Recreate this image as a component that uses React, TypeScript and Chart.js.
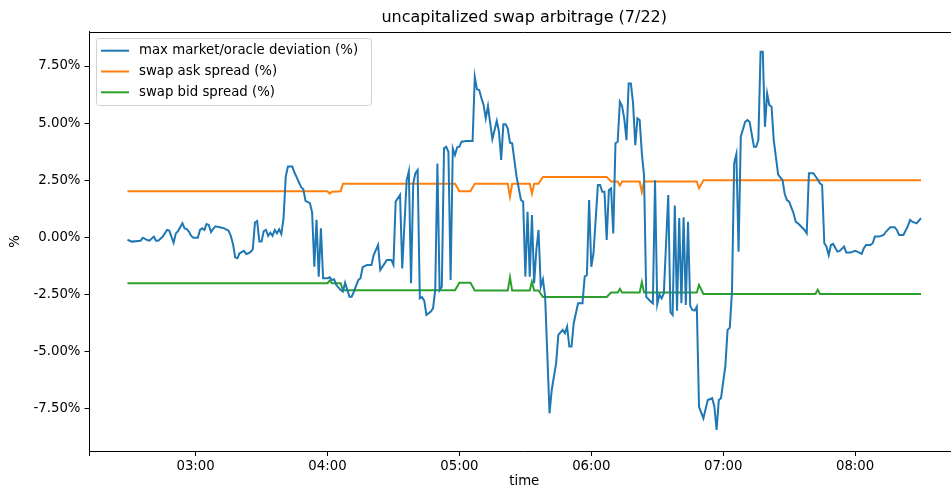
import React, { useEffect, useRef } from "react";
import { Chart, registerables } from "chart.js";

Chart.register(...registerables);

const TITLE = "uncapitalized swap arbitrage (7/22)";
const X_LABEL = "time";
const Y_LABEL = "%";
const SERIES_NAMES = [
  "max market/oracle deviation (%)",
  "swap ask spread (%)",
  "swap bid spread (%)",
];
const COLORS = ["#1f77b4", "#ff7f0e", "#2ca02c"];
const X_TICK_LABELS = ["03:00", "04:00", "05:00", "06:00", "07:00", "08:00"];
const Y_TICKS = [-7.5, -5, -2.5, 0, 2.5, 5, 7.5];
const X_RANGE = ["02:11:30", "08:47:30"];
const Y_RANGE = [-9.36, 9.01];

const deviationTimes = [
  "02:29", "02:31", "02:35", "02:36", "02:38", "02:39", "02:41", "02:42", "02:43", "02:45",
  "02:47", "02:48", "02:50", "02:51", "02:52", "02:54", "02:55", "02:56", "02:57", "02:58",
  "02:59", "03:01", "03:02", "03:03", "03:04", "03:05", "03:06", "03:07", "03:08", "03:09",
  "03:11", "03:13", "03:15", "03:16", "03:17", "03:18", "03:19", "03:20", "03:22", "03:23",
  "03:24", "03:25", "03:26", "03:27", "03:28", "03:29", "03:30", "03:31", "03:32", "03:33",
  "03:34", "03:35", "03:36", "03:37", "03:38", "03:39", "03:40", "03:41", "03:42", "03:44",
  "03:45", "03:46", "03:48", "03:49", "03:50", "03:52", "03:53", "03:54", "03:55", "03:56",
  "03:57", "03:58", "04:00", "04:01", "04:02", "04:03", "04:04", "04:06", "04:07", "04:08",
  "04:10", "04:11", "04:12", "04:14", "04:15", "04:16", "04:18", "04:20", "04:21", "04:23",
  "04:24", "04:26", "04:27", "04:29", "04:30", "04:31", "04:33", "04:34", "04:36", "04:37",
  "04:38", "04:39", "04:40", "04:41", "04:42", "04:43", "04:44", "04:45", "04:47", "04:48",
  "04:49", "04:50", "04:51", "04:52", "04:53", "04:54", "04:55", "04:56", "04:57", "04:58",
  "04:59", "05:00", "05:01", "05:03", "05:06", "05:07", "05:08", "05:09", "05:10", "05:11",
  "05:12", "05:13", "05:14", "05:15", "05:17", "05:18", "05:19", "05:20", "05:21", "05:22",
  "05:23", "05:24", "05:26", "05:28", "05:29", "05:30", "05:31", "05:32", "05:33", "05:34",
  "05:35", "05:36", "05:37", "05:38", "05:39", "05:41", "05:42", "05:44", "05:45", "05:47",
  "05:48", "05:49", "05:50", "05:51", "05:52", "05:54", "05:56", "05:57", "05:58", "05:59",
  "06:00", "06:01", "06:03", "06:04", "06:05", "06:06", "06:07", "06:08", "06:09", "06:10",
  "06:11", "06:12", "06:13", "06:14", "06:15", "06:16", "06:17", "06:18", "06:19", "06:20",
  "06:21", "06:22", "06:23", "06:24", "06:25", "06:27", "06:28", "06:29", "06:30", "06:31",
  "06:32", "06:33", "06:35", "06:36", "06:37", "06:38", "06:39", "06:40", "06:41", "06:42",
  "06:43", "06:44", "06:45", "06:46", "06:47", "06:48", "06:49", "06:51", "06:53", "06:55",
  "06:56", "06:57", "06:58", "06:59", "07:01", "07:02", "07:03", "07:04", "07:05", "07:06",
  "07:07", "07:08", "07:10", "07:11", "07:12", "07:14", "07:15", "07:16", "07:17", "07:18",
  "07:19", "07:20", "07:21", "07:22", "07:23", "07:25", "07:27", "07:28", "07:29", "07:30",
  "07:32", "07:33", "07:34", "07:37", "07:38", "07:39", "07:41", "07:43", "07:44", "07:45",
  "07:46", "07:47", "07:48", "07:49", "07:50", "07:52", "07:53", "07:55", "07:56", "07:58",
  "08:00", "08:01", "08:03", "08:04", "08:05", "08:07", "08:08", "08:09", "08:11", "08:13",
  "08:14", "08:16", "08:18", "08:19", "08:20", "08:22", "08:24", "08:25", "08:26", "08:28",
  "08:30",
];
const deviationValues = [
  -0.10, -0.18, -0.14, -0.01, -0.11, -0.14, 0.04, -0.14, -0.14, 0.03,
  0.33, 0.30, -0.23, 0.18, 0.28, 0.62, 0.40, 0.37, 0.25, 0.07,
  -0.01, -0.01, 0.33, 0.40, 0.33, 0.59, 0.55, 0.24, 0.38, 0.49,
  0.45, 0.40, 0.30, 0.07, -0.28, -0.87, -0.91, -0.69, -0.58, -0.72,
  -0.69, -0.63, -0.52, 0.65, 0.72, -0.18, -0.18, 0.28, 0.33, 0.07,
  0.21, 0.07, 0.33, 0.18, 0.36, 0.15, 0.84, 2.66, 3.10, 3.10,
  2.83, 2.63, 2.20, 2.11, 1.60, 1.50, 1.10, -1.28, 0.77, -1.71,
  0.40, -1.78, -1.78, -1.74, -1.86, -1.83, -2.08, -2.30, -2.37, -1.98,
  -2.59, -2.59, -2.37, -1.86, -1.78, -1.30, -1.20, -1.20, -0.77, -0.33,
  -1.42, -1.13, -0.98, -0.98, -1.20, 1.57, 1.86, -1.35, 2.50, 2.90,
  -2.00, 2.37, 2.81, 2.95, -2.66, -2.61, -2.76, -3.39, -3.24, -3.10,
  -2.30, 3.24, -2.30, -2.15, 3.90, 3.97, 3.75, -1.86, 3.90, 3.61,
  3.94, 3.97, 4.19, 4.22, 4.22, 7.03, 6.48, 6.45, 6.10, 5.80,
  5.21, 5.75, 5.00, 4.30, 5.10, 4.63, 3.39, 4.95, 4.95, 4.77,
  4.15, 4.12, 2.66, 1.64, 1.57, -1.71, 1.13, -1.71, 0.98, -2.00,
  -0.55, 0.33, -2.15, -1.83, -2.59, -7.69, -6.67, -5.50, -4.26, -4.04,
  -4.19, -3.90, -4.77, -4.77, -3.75, -2.88, -2.88, -1.71, -1.64, 1.64,
  -1.28, -0.69, 2.30, 2.30, 2.00, 2.00, -0.11, 2.08, 2.15, 0.18,
  4.12, 4.19, 5.94, 5.75, 5.20, 4.26, 6.74, 6.74, 5.87, 4.04,
  5.21, 5.14, 3.68, 2.70, -2.60, -2.80, -2.88, 2.50, -2.92, -2.50,
  -2.66, -2.44, 1.86, -3.27, -3.39, 1.40, -3.20, 0.85, -2.88, 0.88,
  -2.95, 0.69, -3.00, -3.17, -3.20, -3.02, -7.40, -7.91, -7.11, -7.03,
  -7.40, -8.42, -7.11, -7.03, -5.60, -4.04, -3.95, -2.35, 3.24, 3.65,
  -0.62, 4.41, 5.06, 5.14, 5.06, 3.97, 3.97, 4.26, 8.12, 8.12,
  4.84, 6.30, 5.79, 5.72, 4.26, 2.75, 2.51, 1.90, 1.64, 1.57,
  1.06, 0.69, 0.62, 0.33, 0.18, 2.81, 2.81, 2.54, 2.37, 2.30,
  -0.25, -0.40, -0.77, -0.33, -0.28, -0.62, -0.59, -0.40, -0.66, -0.66,
  -0.58, -0.62, -0.72, -0.47, -0.33, -0.33, -0.25, 0.04, 0.04, 0.11,
  0.25, 0.45, 0.45, 0.33, 0.11, 0.11, 0.50, 0.77, 0.69, 0.62,
  0.85,
];

const askTimes = [
  "02:29", "04:00", "04:01", "04:02", "04:06", "04:07", "04:58", "05:00", "05:05", "05:07",
  "05:22", "05:23", "05:24", "05:32", "05:33", "05:34", "05:36", "05:38", "06:07", "06:09",
  "06:12", "06:13", "06:14", "06:22", "06:23", "06:24", "06:48", "06:49", "06:51", "08:30",
];
const askValues = [
  2.02, 2.02, 1.92, 2.0, 2.02, 2.35, 2.35, 2.02, 2.02, 2.35,
  2.35, 1.78, 2.35, 2.35, 1.92, 2.35, 2.35, 2.65, 2.65, 2.45,
  2.45, 2.28, 2.45, 2.45, 1.99, 2.45, 2.45, 2.15, 2.5, 2.5,
];

const bidTimes = [
  "02:29", "04:00", "04:01", "04:02", "04:06", "04:07", "04:58", "05:00", "05:05", "05:07",
  "05:22", "05:23", "05:24", "05:32", "05:33", "05:34", "05:36", "05:38", "06:07", "06:09",
  "06:12", "06:13", "06:14", "06:22", "06:23", "06:24", "06:48", "06:49", "06:51", "07:42",
  "07:43", "07:44", "08:30",
];
const bidValues = [
  -2.0, -2.0, -1.88, -2.0, -2.0, -2.31, -2.31, -1.98, -1.98, -2.32,
  -2.32, -1.74, -2.32, -2.32, -1.93, -2.32, -2.32, -2.6, -2.6, -2.41,
  -2.41, -2.25, -2.41, -2.41, -1.95, -2.41, -2.41, -2.08, -2.47, -2.47,
  -2.28, -2.47, -2.47,
];

const FONT = "'DejaVu Sans', sans-serif";
const TEXT_SIZE = 13.3;
const TITLE_SIZE = 16;

const toMinutes = (s: string) => {
  const p = s.split(":").map(Number);
  return p[0] * 60 + p[1] + (p[2] || 0) / 60;
};
const fmtMinutes = (v: number) => {
  const total = Math.round(v);
  const h = Math.floor(total / 60);
  const m = total - h * 60;
  return `${String(h).padStart(2, "0")}:${String(m).padStart(2, "0")}`;
};
const toPoints = (times: string[], values: number[]) =>
  times.map((t, i) => ({ x: toMinutes(t), y: values[i] }));

const decorPlugin = {
  id: "decor",
  afterDraw(chart: any) {
    const { ctx, chartArea } = chart;
    const { left, right, top, bottom } = chartArea;
    ctx.save();
    // top spine
    ctx.strokeStyle = "#000";
    ctx.lineWidth = 1;
    ctx.beginPath();
    ctx.moveTo(left, Math.round(top) + 0.5);
    ctx.lineTo(right, Math.round(top) + 0.5);
    ctx.stroke();

    const cx = (left + right) / 2;
    ctx.fillStyle = "#000";
    ctx.textAlign = "center";
    ctx.textBaseline = "middle";
    ctx.font = `${TITLE_SIZE}px ${FONT}`;
    ctx.fillText(TITLE, cx, 18);

    ctx.font = `${TEXT_SIZE}px ${FONT}`;
    ctx.fillText(X_LABEL, cx, 482);

    ctx.save();
    ctx.translate(16, (top + bottom) / 2);
    ctx.rotate(-Math.PI / 2);
    ctx.fillText(Y_LABEL, 0, 0);
    ctx.restore();

    // legend
    const bx = 96.5, by = 38.5, bw = 275, bh = 67, r = 3;
    ctx.beginPath();
    ctx.moveTo(bx + r, by);
    ctx.lineTo(bx + bw - r, by);
    ctx.arcTo(bx + bw, by, bx + bw, by + r, r);
    ctx.lineTo(bx + bw, by + bh - r);
    ctx.arcTo(bx + bw, by + bh, bx + bw - r, by + bh, r);
    ctx.lineTo(bx + r, by + bh);
    ctx.arcTo(bx, by + bh, bx, by + bh - r, r);
    ctx.lineTo(bx, by + r);
    ctx.arcTo(bx, by, bx + r, by, r);
    ctx.closePath();
    ctx.fillStyle = "rgba(255,255,255,0.8)";
    ctx.fill();
    ctx.strokeStyle = "#d0d0d0";
    ctx.lineWidth = 1;
    ctx.stroke();

    const rows = [50.7, 71.5, 92.3];
    ctx.textAlign = "left";
    ctx.font = `${TEXT_SIZE}px ${FONT}`;
    SERIES_NAMES.forEach((name, i) => {
      ctx.strokeStyle = COLORS[i];
      ctx.lineWidth = 2;
      ctx.beginPath();
      ctx.moveTo(101, rows[i]);
      ctx.lineTo(129, rows[i]);
      ctx.stroke();
      ctx.fillStyle = "#000";
      ctx.fillText(name, 139, rows[i]);
    });
    ctx.restore();
  },
};

export default function App() {
  const canvasRef = useRef<HTMLCanvasElement | null>(null);

  useEffect(() => {
    const canvas = canvasRef.current;
    if (!canvas) return;
    const xMin = toMinutes(X_RANGE[0]);
    const xMax = toMinutes(X_RANGE[1]);
    const series = [
      toPoints(deviationTimes, deviationValues),
      toPoints(askTimes, askValues),
      toPoints(bidTimes, bidValues),
    ];
    const chart = new Chart(canvas, {
      type: "line",
      data: {
        datasets: series.map((data, i) => ({
          label: SERIES_NAMES[i],
          data,
          borderColor: COLORS[i],
          backgroundColor: COLORS[i],
          borderWidth: 2,
          pointRadius: 0,
          tension: 0,
          fill: false,
        })),
      },
      options: {
        animation: false,
        responsive: false,
        devicePixelRatio: 1,
        layout: { padding: { top: 31.5, right: 10.5, left: 0, bottom: 0 } },
        plugins: {
          legend: { display: false },
          title: { display: false },
          tooltip: { enabled: false },
        },
        scales: {
          x: {
            type: "linear",
            min: xMin,
            max: xMax,
            afterBuildTicks: (scale: any) => {
              scale.ticks = [xMin, ...X_TICK_LABELS.map(toMinutes)].map((v) => ({ value: v }));
            },
            afterFit: (scale: any) => {
              scale.height = 39.5;
            },
            ticks: {
              autoSkip: false,
              maxRotation: 0,
              color: "#000",
              padding: 3,
              font: { family: FONT, size: TEXT_SIZE },
              callback: (v: any) => {
                const lbl = fmtMinutes(Number(v));
                return X_TICK_LABELS.includes(lbl) ? lbl : "";
              },
            },
            grid: {
              drawOnChartArea: false,
              drawTicks: true,
              tickLength: 4.5,
              tickColor: "#000",
              tickWidth: 1,
            },
            border: { display: true, color: "#000", width: 1 },
          },
          y: {
            type: "linear",
            min: Y_RANGE[0],
            max: Y_RANGE[1],
            afterBuildTicks: (scale: any) => {
              scale.ticks = Y_TICKS.map((v) => ({ value: v }));
            },
            afterFit: (scale: any) => {
              scale.width = 89;
            },
            ticks: {
              color: "#000",
              padding: 4,
              font: { family: FONT, size: TEXT_SIZE },
              callback: (v: any) => `${Number(v).toFixed(2)}%`,
            },
            grid: {
              drawOnChartArea: false,
              drawTicks: true,
              tickLength: 4.5,
              tickColor: "#000",
              tickWidth: 1,
            },
            border: { display: true, color: "#000", width: 1 },
          },
        },
      },
      plugins: [decorPlugin],
    } as any);
    return () => chart.destroy();
  }, []);

  return (
    <div
      style={{
        position: "fixed",
        left: 0,
        top: 0,
        width: 951,
        height: 491,
        overflow: "hidden",
        background: "#fff",
      }}
    >
      <canvas
        ref={canvasRef}
        width={970}
        height={491}
        style={{ width: 970, height: 491, display: "block" }}
      />
    </div>
  );
}
